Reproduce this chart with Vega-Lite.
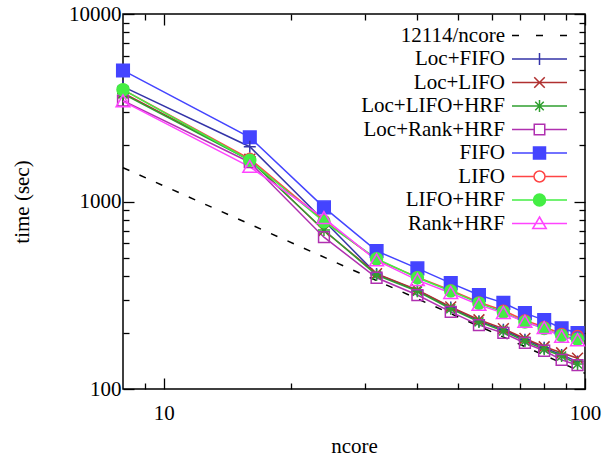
{
  "$schema": "https://vega.github.io/schema/vega-lite/v6.json",
  "width": 462,
  "height": 375,
  "autosize": "none",
  "padding": {"left": 123, "top": 14, "right": 29, "bottom": 70},
  "config": {
    "font": "Liberation Serif",
    "view": {"stroke": "black", "strokeWidth": 1.5},
    "axis": {"domain": false, "grid": false, "tickColor": "black", "tickWidth": 1.3, "labelFontSize": 21, "titleFontSize": 21, "labelColor": "black", "titleColor": "black", "titleFontWeight": "normal", "labelFont": "Liberation Serif", "titleFont": "Liberation Serif", "format": "d", "labelFlush": false},
    "legend": {"labelFont": "Liberation Serif", "labelFontSize": 21, "labelColor": "black", "padding": 0}
  },
  "datasets": {
    "ref": [{"s": "12114/ncore", "n": 8, "t": 1514.25}, {"s": "12114/ncore", "n": 100, "t": 121.14}],
    "main": [
      {"s": "FIFO", "n": 8, "t": 5000}, {"s": "FIFO", "n": 16, "t": 2200}, {"s": "FIFO", "n": 24, "t": 930}, {"s": "FIFO", "n": 32, "t": 545}, {"s": "FIFO", "n": 40, "t": 440}, {"s": "FIFO", "n": 48, "t": 367}, {"s": "FIFO", "n": 56, "t": 317}, {"s": "FIFO", "n": 64, "t": 288}, {"s": "FIFO", "n": 72, "t": 254}, {"s": "FIFO", "n": 80, "t": 233}, {"s": "FIFO", "n": 88, "t": 211}, {"s": "FIFO", "n": 96, "t": 199},
      {"s": "Loc+FIFO", "n": 8, "t": 4100}, {"s": "Loc+FIFO", "n": 16, "t": 1960}, {"s": "Loc+FIFO", "n": 24, "t": 790}, {"s": "Loc+FIFO", "n": 32, "t": 410}, {"s": "Loc+FIFO", "n": 40, "t": 335}, {"s": "Loc+FIFO", "n": 48, "t": 272}, {"s": "Loc+FIFO", "n": 56, "t": 230}, {"s": "Loc+FIFO", "n": 64, "t": 207}, {"s": "Loc+FIFO", "n": 72, "t": 183}, {"s": "Loc+FIFO", "n": 80, "t": 166}, {"s": "Loc+FIFO", "n": 88, "t": 152}, {"s": "Loc+FIFO", "n": 96, "t": 140},
      {"s": "Loc+LIFO", "n": 8, "t": 3800}, {"s": "Loc+LIFO", "n": 16, "t": 1680}, {"s": "Loc+LIFO", "n": 24, "t": 700}, {"s": "Loc+LIFO", "n": 32, "t": 412}, {"s": "Loc+LIFO", "n": 40, "t": 338}, {"s": "Loc+LIFO", "n": 48, "t": 274}, {"s": "Loc+LIFO", "n": 56, "t": 234}, {"s": "Loc+LIFO", "n": 64, "t": 210}, {"s": "Loc+LIFO", "n": 72, "t": 186}, {"s": "Loc+LIFO", "n": 80, "t": 168}, {"s": "Loc+LIFO", "n": 88, "t": 156}, {"s": "Loc+LIFO", "n": 96, "t": 146},
      {"s": "Loc+LIFO+HRF", "n": 8, "t": 3750}, {"s": "Loc+LIFO+HRF", "n": 16, "t": 1660}, {"s": "Loc+LIFO+HRF", "n": 24, "t": 705}, {"s": "Loc+LIFO+HRF", "n": 32, "t": 405}, {"s": "Loc+LIFO+HRF", "n": 40, "t": 332}, {"s": "Loc+LIFO+HRF", "n": 48, "t": 268}, {"s": "Loc+LIFO+HRF", "n": 56, "t": 228}, {"s": "Loc+LIFO+HRF", "n": 64, "t": 204}, {"s": "Loc+LIFO+HRF", "n": 72, "t": 180}, {"s": "Loc+LIFO+HRF", "n": 80, "t": 163}, {"s": "Loc+LIFO+HRF", "n": 88, "t": 150}, {"s": "Loc+LIFO+HRF", "n": 96, "t": 136},
      {"s": "Loc+Rank+HRF", "n": 8, "t": 3450}, {"s": "Loc+Rank+HRF", "n": 16, "t": 1620}, {"s": "Loc+Rank+HRF", "n": 24, "t": 645}, {"s": "Loc+Rank+HRF", "n": 32, "t": 392}, {"s": "Loc+Rank+HRF", "n": 40, "t": 317}, {"s": "Loc+Rank+HRF", "n": 48, "t": 258}, {"s": "Loc+Rank+HRF", "n": 56, "t": 219}, {"s": "Loc+Rank+HRF", "n": 64, "t": 199}, {"s": "Loc+Rank+HRF", "n": 72, "t": 176}, {"s": "Loc+Rank+HRF", "n": 80, "t": 160}, {"s": "Loc+Rank+HRF", "n": 88, "t": 143}, {"s": "Loc+Rank+HRF", "n": 96, "t": 134},
      {"s": "LIFO", "n": 8, "t": 3950}, {"s": "LIFO", "n": 16, "t": 1690}, {"s": "LIFO", "n": 24, "t": 790}, {"s": "LIFO", "n": 32, "t": 490}, {"s": "LIFO", "n": 40, "t": 395}, {"s": "LIFO", "n": 48, "t": 336}, {"s": "LIFO", "n": 56, "t": 290}, {"s": "LIFO", "n": 64, "t": 262}, {"s": "LIFO", "n": 72, "t": 232}, {"s": "LIFO", "n": 80, "t": 214}, {"s": "LIFO", "n": 88, "t": 197}, {"s": "LIFO", "n": 96, "t": 192},
      {"s": "LIFO+HRF", "n": 8, "t": 3950}, {"s": "LIFO+HRF", "n": 16, "t": 1660}, {"s": "LIFO+HRF", "n": 24, "t": 780}, {"s": "LIFO+HRF", "n": 32, "t": 495}, {"s": "LIFO+HRF", "n": 40, "t": 392}, {"s": "LIFO+HRF", "n": 48, "t": 333}, {"s": "LIFO+HRF", "n": 56, "t": 287}, {"s": "LIFO+HRF", "n": 64, "t": 257}, {"s": "LIFO+HRF", "n": 72, "t": 228}, {"s": "LIFO+HRF", "n": 80, "t": 210}, {"s": "LIFO+HRF", "n": 88, "t": 193}, {"s": "LIFO+HRF", "n": 96, "t": 184},
      {"s": "Rank+HRF", "n": 8, "t": 3420}, {"s": "Rank+HRF", "n": 16, "t": 1530}, {"s": "Rank+HRF", "n": 24, "t": 815}, {"s": "Rank+HRF", "n": 32, "t": 485}, {"s": "Rank+HRF", "n": 40, "t": 381}, {"s": "Rank+HRF", "n": 48, "t": 325}, {"s": "Rank+HRF", "n": 56, "t": 281}, {"s": "Rank+HRF", "n": 64, "t": 254}, {"s": "Rank+HRF", "n": 72, "t": 228}, {"s": "Rank+HRF", "n": 80, "t": 211}, {"s": "Rank+HRF", "n": 88, "t": 190}, {"s": "Rank+HRF", "n": 96, "t": 182}
    ]
  },
  "data": {"name": "main"},
  "layer": [
    {
      "data": {"name": "ref"},
      "mark": {"type": "line", "color": "black", "strokeWidth": 1.5, "strokeDash": [7, 11]},
      "encoding": {
        "x": {"field": "n", "type": "quantitative", "scale": {"type": "log", "domain": [8, 100], "nice": false}, "axis": {"orient": "bottom", "values": [10, 100], "tickSize": -11, "labelPadding": 24, "title": "ncore", "titlePadding": 12}},
        "y": {"field": "t", "type": "quantitative", "scale": {"type": "log", "domain": [100, 10000], "nice": false}, "axis": {"orient": "left", "values": [100, 1000, 10000], "tickSize": -11, "labelPadding": 13, "title": "time (sec)", "titlePadding": 36}}
      }
    },
    {
      "mark": {"type": "line", "strokeWidth": 1.5},
      "encoding": {
        "x": {"field": "n", "type": "quantitative", "axis": {"orient": "bottom", "values": [9, 20, 30, 40, 50, 60, 70, 80, 90], "tickSize": -6, "labels": false, "title": null}},
        "y": {"field": "t", "type": "quantitative", "axis": {"orient": "left", "values": [200, 300, 400, 500, 600, 700, 800, 900, 2000, 3000, 4000, 5000, 6000, 7000, 8000, 9000], "tickSize": -6, "labels": false, "title": null}},
        "stroke": {"field": "s", "type": "nominal", "legend": null, "scale": {"domain": ["12114/ncore", "Loc+FIFO", "Loc+LIFO", "Loc+LIFO+HRF", "Loc+Rank+HRF", "FIFO", "LIFO", "LIFO+HRF", "Rank+HRF"], "range": ["#000000", "#3434a8", "#b03030", "#30a030", "#b030b0", "#4444ff", "#ff4444", "#44ee44", "#ff44ff"]}}
      }
    },
    {
      "mark": {"type": "point", "size": 144, "strokeWidth": 1.5, "opacity": 1},
      "encoding": {
        "x": {"field": "n", "type": "quantitative", "axis": {"orient": "top", "values": [10, 100], "tickSize": -11, "labels": false, "title": null}},
        "y": {"field": "t", "type": "quantitative", "axis": {"orient": "right", "values": [100, 1000, 10000], "tickSize": -11, "labels": false, "title": null}},
        "stroke": {"field": "s", "type": "nominal", "legend": null, "scale": {"domain": ["12114/ncore", "Loc+FIFO", "Loc+LIFO", "Loc+LIFO+HRF", "Loc+Rank+HRF", "FIFO", "LIFO", "LIFO+HRF", "Rank+HRF"], "range": ["#000000", "#3434a8", "#b03030", "#30a030", "#b030b0", "#4444ff", "#ff4444", "#44ee44", "#ff44ff"]}},
        "fill": {"field": "s", "type": "nominal", "legend": null, "scale": {"domain": ["12114/ncore", "Loc+FIFO", "Loc+LIFO", "Loc+LIFO+HRF", "Loc+Rank+HRF", "FIFO", "LIFO", "LIFO+HRF", "Rank+HRF"], "range": ["transparent", "transparent", "transparent", "transparent", "transparent", "#4444ff", "transparent", "#44ee44", "transparent"]}},
        "shape": {"field": "s", "type": "nominal", "legend": null, "scale": {"domain": ["12114/ncore", "Loc+FIFO", "Loc+LIFO", "Loc+LIFO+HRF", "Loc+Rank+HRF", "FIFO", "LIFO", "LIFO+HRF", "Rank+HRF"], "range": ["M-1,0H1", "M-1,0H1M0,-1V1", "M-0.9,-0.9L0.9,0.9M-0.9,0.9L0.9,-0.9", "M-1,0H1M0,-1V1M-0.75,-0.75L0.75,0.75M-0.75,0.75L0.75,-0.75", "M-0.9,-0.9H0.9V0.9H-0.9Z", "M-1.05,-1.05H1.05V1.05H-1.05Z", "M-0.9,0A0.9,0.9,0,1,0,0.9,0A0.9,0.9,0,1,0,-0.9,0Z", "M-1,0A1,1,0,1,0,1,0A1,1,0,1,0,-1,0Z", "M0,-1.1L1.15,0.9L-1.15,0.9Z"]}}
      }
    },
    {
      "mark": {"type": "point", "size": 100, "strokeWidth": 1.5, "opacity": 0},
      "encoding": {
        "x": {"field": "n", "type": "quantitative", "axis": {"orient": "top", "values": [9, 20, 30, 40, 50, 60, 70, 80, 90], "tickSize": -6, "labels": false, "title": null}},
        "y": {"field": "t", "type": "quantitative", "axis": {"orient": "right", "values": [200, 300, 400, 500, 600, 700, 800, 900, 2000, 3000, 4000, 5000, 6000, 7000, 8000, 9000], "tickSize": -6, "labels": false, "title": null}},
        "stroke": {"field": "s", "type": "nominal", "title": null, "scale": {"domain": ["12114/ncore", "Loc+FIFO", "Loc+LIFO", "Loc+LIFO+HRF", "Loc+Rank+HRF", "FIFO", "LIFO", "LIFO+HRF", "Rank+HRF"], "range": ["#000000", "#3434a8", "#b03030", "#30a030", "#b030b0", "#4444ff", "#ff4444", "#44ee44", "#ff44ff"]}, "legend": {"orient": "none", "legendX": 406, "legendY": 11, "title": null, "labelAlign": "right", "labelOffset": -45, "symbolOpacity": 1, "symbolStrokeWidth": 1.5, "symbolSize": 100, "rowPadding": 1.5, "labelLimit": 300}},
        "fill": {"field": "s", "type": "nominal", "title": null, "scale": {"domain": ["12114/ncore", "Loc+FIFO", "Loc+LIFO", "Loc+LIFO+HRF", "Loc+Rank+HRF", "FIFO", "LIFO", "LIFO+HRF", "Rank+HRF"], "range": ["transparent", "transparent", "transparent", "transparent", "transparent", "#4444ff", "transparent", "#44ee44", "transparent"]}, "legend": {"orient": "none", "legendX": 406, "legendY": 11, "title": null, "labelAlign": "right", "labelOffset": -45, "symbolOpacity": 1, "symbolStrokeWidth": 1.5, "symbolSize": 100, "rowPadding": 1.5, "labelLimit": 300}},
        "shape": {"field": "s", "type": "nominal", "title": null, "scale": {"domain": ["12114/ncore", "Loc+FIFO", "Loc+LIFO", "Loc+LIFO+HRF", "Loc+Rank+HRF", "FIFO", "LIFO", "LIFO+HRF", "Rank+HRF"], "range": ["M-5.5,0H-4.1M-0.7,0H0.7M4.1,0H5.5", "M-5.5,0H5.5M0,-1.2V1.2", "M-5.5,0H5.5M-1.05,-1.05L1.05,1.05M-1.05,1.05L1.05,-1.05", "M-5.5,0H5.5M0,-1.2V1.2M-0.85,-0.85L0.85,0.85M-0.85,0.85L0.85,-0.85", "M-5.5,0H-1.05M1.05,0H5.5M-1.05,-1.05H1.05V1.05H-1.05Z", "M-5.5,0H5.5M-1.2,-1.2H1.2V1.2H-1.2Z", "M-5.5,0H-1.1M1.1,0H5.5M-1.1,0A1.1,1.1,0,1,0,1.1,0A1.1,1.1,0,1,0,-1.1,0Z", "M-5.5,0H5.5M-1.2,0A1.2,1.2,0,1,0,1.2,0A1.2,1.2,0,1,0,-1.2,0Z", "M-5.5,0H5.5M0,-1.3L1.35,1L-1.35,1Z"]}, "legend": {"orient": "none", "legendX": 406, "legendY": 11, "title": null, "labelAlign": "right", "labelOffset": -45, "symbolOpacity": 1, "symbolStrokeWidth": 1.5, "symbolSize": 100, "rowPadding": 1.5, "labelLimit": 300}}
      }
    }
  ],
  "resolve": {
    "axis": {"x": "independent", "y": "independent"},
    "scale": {"stroke": "independent", "fill": "independent", "shape": "independent"}
  }
}
